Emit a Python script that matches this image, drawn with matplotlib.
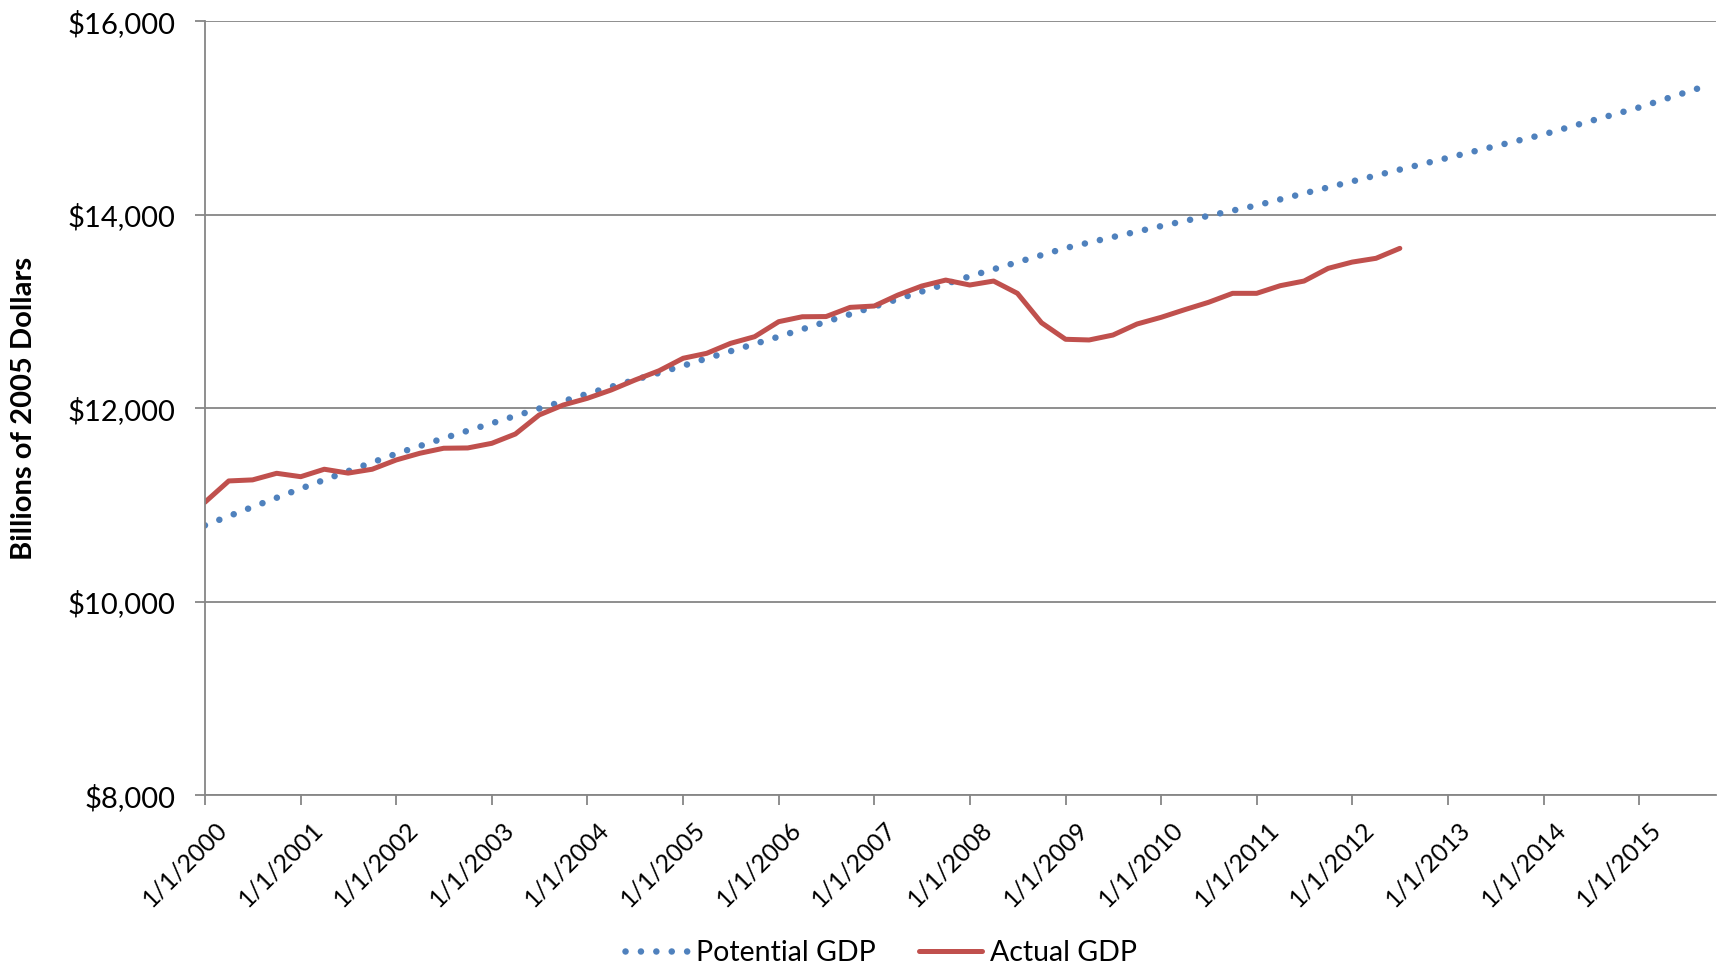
import datetime as dt
import matplotlib
matplotlib.use("Agg")
import matplotlib.pyplot as plt
import matplotlib.dates as mdates
import matplotlib.transforms as mtransforms
from matplotlib.ticker import FuncFormatter

# quarterly data, billions of 2005 dollars
potential_gdp = [
    10790, 10885, 10980, 11075,
    11170, 11260, 11350, 11440,
    11530, 11610, 11690, 11768,
    11845, 11921, 11997, 12073,
    12150, 12222, 12294, 12366,
    12440, 12515, 12590, 12665,
    12740, 12817, 12894, 12972,
    13050, 13128, 13206, 13285,
    13364, 13437, 13510, 13583,
    13656, 13713, 13770, 13826,
    13883, 13936, 13989, 14043,
    14097, 14159, 14221, 14283,
    14345, 14406, 14467, 14528,
    14589, 14649, 14709, 14770,
    14830, 14900, 14970, 15040,
    15109, 15188, 15267, 15347,
]
actual_gdp = [
    11029, 11249, 11260, 11328,
    11293, 11370, 11330, 11370,
    11466, 11535, 11587, 11590,
    11638, 11734, 11931, 12034,
    12103, 12189, 12292, 12388,
    12517, 12568, 12671, 12740,
    12895, 12946, 12948, 13043,
    13057, 13170, 13263, 13325,
    13274, 13315, 13188, 12884,
    12713, 12706, 12757, 12871,
    12940, 13019, 13095, 13188,
    13188, 13267, 13315, 13446,
    13511, 13550, 13653,
]
quarters = [dt.date(2000 + i // 4, 1 + 3 * (i % 4), 1) for i in range(len(potential_gdp))]
years = list(range(2000, 2016))

plt.rcParams['font.family'] = ['Lato', 'DejaVu Sans']

fig = plt.figure(figsize=(17.25, 9.66), dpi=100)
ax = fig.add_axes([0.1188, 0.1767, 0.876, 0.8013])

grey = '#868686'

ax.plot(quarters, potential_gdp, color='#4F81BD', lw=4.7,
        linestyle=(0, (0.01, 2.35)), dash_capstyle='round', label='Potential GDP')
ax.plot(quarters[:len(actual_gdp)], actual_gdp, color='#C0504D', lw=3.6,
        solid_capstyle='round', solid_joinstyle='round', label='Actual GDP')

ax.set_ylim(8000, 16000)
ax.set_yticks(range(8000, 16001, 2000))
ax.yaxis.set_major_formatter(FuncFormatter(lambda v, p: '${:,.0f}'.format(v)))
ax.set_xlim(dt.date(2000, 1, 1), dt.date(2015, 10, 22))
ax.set_xticks([dt.date(y, 1, 1) for y in years])
ax.xaxis.set_major_formatter(mdates.DateFormatter('1/1/%Y'))

ax.grid(axis='y', color=grey, lw=1.3)
ax.set_axisbelow(True)
for s in ['top', 'right']:
    ax.spines[s].set_visible(False)
for s in ['left', 'bottom']:
    ax.spines[s].set_color(grey)
    ax.spines[s].set_linewidth(1.3)

ax.tick_params(axis='y', labelsize=21, color=grey, length=7, width=1.3, pad=14)
ax.tick_params(axis='x', labelsize=17.8, color=grey, length=7, width=1.3, pad=9)
shift = mtransforms.ScaledTranslation(0.1, 0, fig.dpi_scale_trans)
for lab in ax.get_xticklabels():
    lab.set_rotation(45)
    lab.set_ha('right')
    lab.set_va('top')
    lab.set_rotation_mode('anchor')
    lab.set_transform(lab.get_transform() + shift)

ax.set_ylabel('Billions of 2005 Dollars', fontsize=21, fontweight='bold')
ax.yaxis.set_label_coords(-0.111, 0.5)

fig.legend(loc='center', bbox_to_anchor=(0.5107, 0.0135), ncol=2, frameon=False,
           fontsize=20.5, handlelength=2.2, columnspacing=1.55, handletextpad=0.28,
           borderpad=0)

fig.savefig('out.png', dpi=100)
